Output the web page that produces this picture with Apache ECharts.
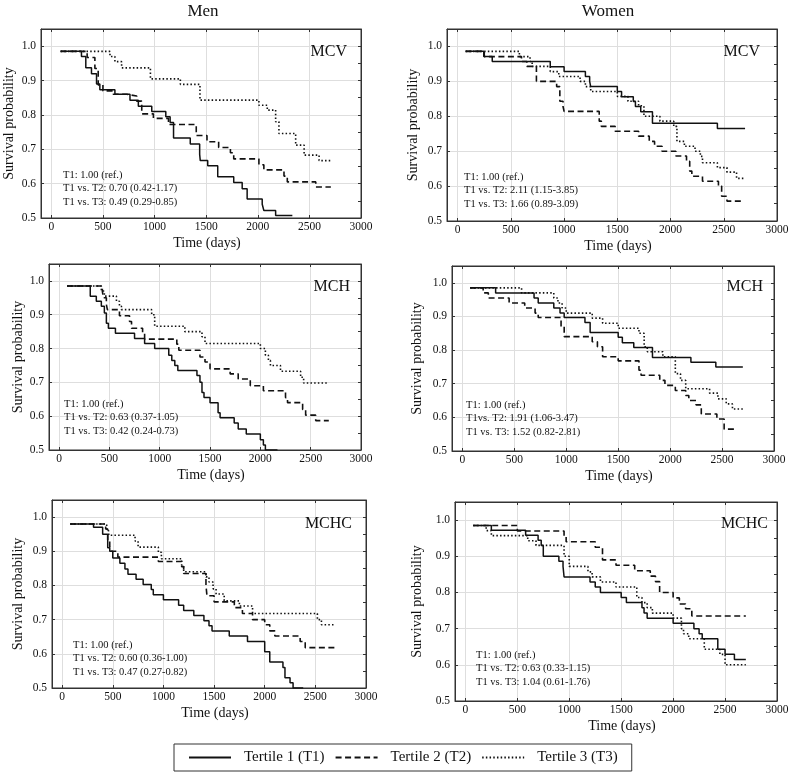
<!DOCTYPE html>
<html><head><meta charset="utf-8">
<script src="https://cdn.jsdelivr.net/npm/echarts@6/dist/echarts.min.js"></script>
<style>html,body{margin:0;padding:0;background:#fff}#c{width:793px;height:774px}</style>
</head><body><div id="c"></div>
<script>
// ---------- data ----------
const xTicks = [0, 500, 1000, 1500, 2000, 2500, 3000];
const yTicks = [0.5, 0.6, 0.7, 0.8, 0.9, 1.0];
const seriesNames = ['Tertile 1 (T1)', 'Tertile 2 (T2)', 'Tertile 3 (T3)'];
const columnTitles = ['Men', 'Women'];
const panelLabels = ['MCV', 'MCV', 'MCH', 'MCH', 'MCHC', 'MCHC'];
const hrTexts = [
  ['T1: 1.00 (ref.)', 'T1 vs. T2: 0.70 (0.42-1.17)', 'T1 vs. T3: 0.49 (0.29-0.85)'],
  ['T1: 1.00 (ref.)', 'T1 vs. T2: 2.11 (1.15-3.85)', 'T1 vs. T3: 1.66 (0.89-3.09)'],
  ['T1: 1.00 (ref.)', 'T1 vs. T2: 0.63 (0.37-1.05)', 'T1 vs. T3: 0.42 (0.24-0.73)'],
  ['T1: 1.00 (ref.)', 'T1vs. T2: 1.91 (1.06-3.47)', 'T1 vs. T3: 1.52 (0.82-2.81)'],
  ['T1: 1.00 (ref.)', 'T1 vs. T2: 0.60 (0.36-1.00)', 'T1 vs. T3: 0.47 (0.27-0.82)'],
  ['T1: 1.00 (ref.)', 'T1 vs. T2: 0.63 (0.33-1.15)', 'T1 vs. T3: 1.04 (0.61-1.76)']
];

// Kaplan-Meier change points [day, survival]
const menMCV_T1 = [[90,0.985],[292,0.97],[334,0.937],[389,0.92],[438,0.89],[470,0.873],[616,0.86],[762,0.843],[843,0.825],[973,0.81],[1109,0.795],[1151,0.778],[1184,0.733],[1346,0.715],[1437,0.685],[1443,0.667],[1515,0.652],[1612,0.62],[1767,0.603],[1849,0.585],[1897,0.555],[2043,0.54],[2059,0.522],[2173,0.507],[2335,0.507]];
const menMCV_T2 = [[90,0.985],[347,0.967],[422,0.935],[454,0.887],[500,0.87],[600,0.86],[730,0.855],[827,0.84],[876,0.803],[989,0.79],[1135,0.772],[1404,0.74],[1508,0.722],[1621,0.705],[1735,0.69],[1767,0.672],[2011,0.655],[2059,0.64],[2254,0.622],[2286,0.605],[2562,0.59],[2708,0.59]];
const menMCV_T3 = [[90,0.985],[568,0.97],[616,0.955],[681,0.937],[960,0.905],[1250,0.889],[1440,0.843],[2011,0.828],[2092,0.814],[2173,0.78],[2205,0.746],[2367,0.712],[2449,0.683],[2594,0.667],[2708,0.667]];

const womenMCV_T1 = [[75,0.986],[245,0.971],[325,0.957],[870,0.942],[1000,0.928],[1200,0.914],[1240,0.9],[1250,0.885],[1500,0.871],[1540,0.856],[1650,0.842],[1670,0.828],[1720,0.813],[1830,0.78],[2440,0.765],[2700,0.765]];
const womenMCV_T2 = [[75,0.986],[250,0.971],[600,0.957],[650,0.943],[740,0.9],[930,0.885],[960,0.843],[990,0.828],[1000,0.814],[1330,0.786],[1350,0.771],[1480,0.757],[1700,0.743],[1800,0.728],[1850,0.714],[1920,0.7],[2050,0.686],[2150,0.671],[2180,0.643],[2200,0.628],[2300,0.614],[2450,0.6],[2480,0.571],[2530,0.557],[2680,0.557]];
const womenMCV_T3 = [[75,0.986],[580,0.971],[680,0.957],[700,0.943],[870,0.928],[950,0.914],[1150,0.9],[1200,0.885],[1250,0.871],[1500,0.857],[1600,0.843],[1700,0.83],[1750,0.8],[1900,0.786],[2030,0.771],[2060,0.728],[2130,0.714],[2230,0.7],[2280,0.685],[2300,0.667],[2440,0.653],[2530,0.64],[2620,0.622],[2700,0.622]];

const menMCH_T1 = [[80,0.985],[310,0.955],[370,0.94],[420,0.925],[450,0.905],[470,0.875],[490,0.86],[560,0.845],[750,0.83],[850,0.815],[950,0.8],[1090,0.78],[1120,0.765],[1150,0.75],[1180,0.735],[1370,0.72],[1400,0.7],[1420,0.67],[1440,0.655],[1500,0.64],[1580,0.61],[1600,0.595],[1740,0.58],[1780,0.562],[1860,0.547],[2000,0.53],[2030,0.515],[2050,0.5],[2170,0.5]];
const menMCH_T2 = [[80,0.985],[430,0.97],[440,0.95],[470,0.93],[480,0.915],[600,0.897],[700,0.88],[720,0.86],[830,0.845],[850,0.828],[1170,0.813],[1190,0.795],[1400,0.775],[1450,0.76],[1500,0.74],[1700,0.725],[1780,0.71],[1900,0.69],[2030,0.675],[2250,0.655],[2270,0.64],[2420,0.62],[2450,0.603],[2550,0.587],[2680,0.587]];
const menMCH_T3 = [[80,0.985],[420,0.97],[450,0.955],[570,0.94],[600,0.925],[620,0.915],[920,0.9],[950,0.866],[1250,0.85],[1420,0.835],[1450,0.815],[2000,0.8],[2050,0.78],[2080,0.765],[2100,0.75],[2200,0.733],[2400,0.715],[2430,0.698],[2680,0.698]];

const womenMCH_T1 = [[75,0.985],[320,0.97],[690,0.955],[730,0.94],[880,0.925],[940,0.91],[980,0.897],[1180,0.882],[1230,0.852],[1500,0.838],[1540,0.822],[1650,0.808],[1830,0.778],[2200,0.764],[2440,0.75],[2700,0.75]];
const womenMCH_T2 = [[75,0.985],[200,0.97],[250,0.955],[450,0.94],[600,0.925],[700,0.91],[730,0.897],[950,0.87],[980,0.84],[1250,0.825],[1300,0.81],[1350,0.78],[1500,0.768],[1700,0.74],[1720,0.725],[1900,0.71],[1950,0.695],[2050,0.68],[2150,0.665],[2180,0.65],[2250,0.637],[2300,0.61],[2450,0.595],[2520,0.565],[2640,0.565]];
const womenMCH_T3 = [[75,0.985],[570,0.97],[880,0.955],[920,0.94],[960,0.925],[1000,0.91],[1250,0.895],[1350,0.88],[1500,0.865],[1700,0.85],[1750,0.81],[1780,0.795],[1930,0.78],[2050,0.73],[2100,0.71],[2150,0.685],[2380,0.672],[2460,0.655],[2540,0.64],[2600,0.625],[2700,0.625]];

const menMCHC_T1 = [[80,0.98],[310,0.97],[400,0.95],[450,0.91],[470,0.9],[500,0.88],[570,0.865],[620,0.848],[650,0.833],[730,0.818],[800,0.803],[880,0.788],[900,0.773],[1000,0.758],[1150,0.742],[1200,0.727],[1300,0.712],[1400,0.697],[1450,0.682],[1480,0.667],[1650,0.652],[1830,0.636],[2000,0.606],[2050,0.576],[2180,0.56],[2200,0.53],[2250,0.515],[2280,0.5],[2380,0.5]];
const menMCHC_T2 = [[80,0.98],[430,0.965],[450,0.93],[470,0.915],[480,0.9],[550,0.883],[950,0.87],[1180,0.855],[1200,0.835],[1420,0.8],[1430,0.77],[1500,0.752],[1700,0.735],[1780,0.718],[1880,0.7],[2000,0.685],[2050,0.667],[2100,0.652],[2350,0.636],[2400,0.618],[2700,0.618]];
const menMCHC_T3 = [[80,0.98],[440,0.96],[460,0.947],[720,0.93],[750,0.912],[950,0.897],[980,0.878],[1180,0.86],[1200,0.84],[1420,0.825],[1450,0.81],[1490,0.79],[1520,0.775],[1600,0.755],[1750,0.74],[1880,0.718],[2520,0.7],[2560,0.685],[2700,0.685]];

const womenMCHC_T1 = [[75,0.985],[250,0.972],[580,0.958],[700,0.944],[730,0.93],[750,0.9],[900,0.886],[940,0.872],[950,0.843],[1200,0.829],[1250,0.815],[1300,0.8],[1500,0.786],[1550,0.772],[1700,0.758],[1720,0.743],[1750,0.729],[2000,0.715],[2200,0.7],[2250,0.686],[2280,0.672],[2430,0.643],[2500,0.629],[2590,0.615],[2700,0.615]];
const womenMCHC_T2 = [[75,0.985],[500,0.97],[950,0.955],[970,0.94],[1250,0.925],[1320,0.89],[1450,0.875],[1630,0.86],[1780,0.845],[1830,0.83],[1870,0.8],[2000,0.785],[2060,0.768],[2120,0.755],[2180,0.735],[2700,0.735]];
const womenMCHC_T3 = [[75,0.985],[200,0.971],[250,0.957],[600,0.943],[680,0.93],[950,0.9],[1000,0.872],[1180,0.857],[1220,0.843],[1300,0.829],[1450,0.815],[1650,0.786],[1700,0.772],[1750,0.758],[1800,0.743],[2000,0.729],[2080,0.7],[2100,0.686],[2150,0.672],[2300,0.643],[2450,0.629],[2500,0.6],[2700,0.6]];

const panelData = [
  [menMCV_T1, menMCV_T2, menMCV_T3],
  [womenMCV_T1, womenMCV_T2, womenMCV_T3],
  [menMCH_T1, menMCH_T2, menMCH_T3],
  [womenMCH_T1, womenMCH_T2, womenMCH_T3],
  [menMCHC_T1, menMCHC_T2, menMCHC_T3],
  [womenMCHC_T1, womenMCHC_T2, womenMCHC_T3]
];

// ---------- layout ----------
const FONT = '"Liberation Serif", "DejaVu Serif", serif';
const INK = '#111';
const grids = [
  {left: 41,  top: 29,  width: 320, height: 189},
  {left: 447, top: 29,  width: 330, height: 192},
  {left: 49,  top: 264, width: 312, height: 186},
  {left: 452, top: 266, width: 322, height: 185},
  {left: 52,  top: 500, width: 314, height: 188},
  {left: 455, top: 502, width: 322, height: 199}
];
const yNameGap = [25, 27, 24, 28, 27, 31];
const lineTypes = ['solid', [6, 3.5], [1.5, 2.2]];
const lineWidths = [1.5, 1.6, 1.6];

const xAxes = [], yAxes = [], series = [], graphics = [];
const axisLineStyle = {show: true, onZero: false, lineStyle: {color: '#333'}};
grids.forEach((g, i) => {
  g.show = true; g.borderColor = '#333'; g.borderWidth = 1; g.backgroundColor = '#fff';
  xAxes.push({
    gridIndex: i, type: 'value', min: -100, max: 3000, position: 'bottom',
    name: 'Time (days)', nameLocation: 'middle', nameGap: 18,
    nameTextStyle: {fontFamily: FONT, fontSize: 14, color: INK, padding: [0, 0, 0, 12]},
    axisLine: axisLineStyle,
    axisTick: {show: true, inside: true, length: 3, lineStyle: {color: '#333'}, customValues: xTicks},
    axisLabel: {fontFamily: FONT, fontSize: 11.5, color: INK, margin: 3, customValues: xTicks,
                formatter: v => String(v)},
    splitLine: {show: true, lineStyle: {color: '#dedede', width: 1}}
  });
  xAxes.push({
    gridIndex: i, type: 'value', min: -100, max: 3000, position: 'top',
    axisLine: axisLineStyle,
    axisTick: {show: true, inside: true, length: 3, lineStyle: {color: '#333'}, customValues: xTicks},
    axisLabel: {show: false}, splitLine: {show: false}
  });
  yAxes.push({
    gridIndex: i, type: 'value', min: 0.5, max: 1.05, position: 'left',
    name: 'Survival probability', nameLocation: 'middle', nameGap: yNameGap[i], nameRotate: 90,
    nameTextStyle: {fontFamily: FONT, fontSize: 14, color: INK},
    axisLine: axisLineStyle,
    axisTick: {show: true, inside: true, length: 3, lineStyle: {color: '#333'}, customValues: yTicks},
    axisLabel: {fontFamily: FONT, fontSize: 11.5, color: INK, margin: 5, customValues: yTicks,
                formatter: v => v.toFixed(1)},
    splitLine: {show: true, lineStyle: {color: '#dedede', width: 1}}
  });
  yAxes.push({
    gridIndex: i, type: 'value', min: 0.5, max: 1.05, interval: 0.05, position: 'right',
    axisLine: axisLineStyle,
    axisTick: {show: true, inside: true, length: 3, lineStyle: {color: '#333'}},
    axisLabel: {show: false}, splitLine: {show: false}
  });
  panelData[i].forEach((d, k) => {
    series.push({
      type: 'line', name: seriesNames[k], xAxisIndex: 2 * i, yAxisIndex: 2 * i,
      data: d, step: 'end', symbol: 'none', showSymbol: false, silent: true,
      lineStyle: {color: INK, width: lineWidths[k], type: lineTypes[k]},
      itemStyle: {color: INK}, z: 3 + (2 - k)
    });
  });
});

// column titles
[[203, 12], [608, 12]].forEach((p, j) => graphics.push({
  type: 'text', x: p[0], y: p[1],
  style: {text: columnTitles[j], font: '17px ' + FONT, fill: INK, align: 'center', verticalAlign: 'middle'}
}));
// panel labels
const labelPos = [[347, 52], [760, 52], [350, 287], [763, 287], [352, 524], [768, 524]];
labelPos.forEach((p, i) => graphics.push({
  type: 'text', x: p[0], y: p[1], z: 10,
  style: {text: panelLabels[i], font: '16px ' + FONT, fill: INK, align: 'right', verticalAlign: 'middle'}
}));
// hazard ratio annotations
const hrPos = [[63, 175], [464, 177], [64, 404], [466, 405], [73, 645], [476, 655]];
hrPos.forEach((p, i) => hrTexts[i].forEach((t, r) => graphics.push({
  type: 'text', x: p[0], y: p[1] + r * 13.5, z: 10,
  style: {text: t, font: '10.5px ' + FONT, fill: INK, align: 'left', verticalAlign: 'middle'}
})));

const chart = echarts.init(document.getElementById('c'), null, {renderer: 'canvas'});
chart.setOption({
  animation: false,
  backgroundColor: '#fff',
  grid: grids, xAxis: xAxes, yAxis: yAxes, series: series,
  legend: {
    data: seriesNames, top: 744, left: 174,
    itemWidth: 42, itemHeight: 12, itemGap: 10,
    itemStyle: {opacity: 0, borderWidth: 0},
    borderColor: '#333', borderWidth: 1, padding: [6, 14],
    textStyle: {fontFamily: FONT, fontSize: 15, color: INK, padding: [0, 0, 0, 8]}
  },
  graphic: graphics
});
</script></body></html>
